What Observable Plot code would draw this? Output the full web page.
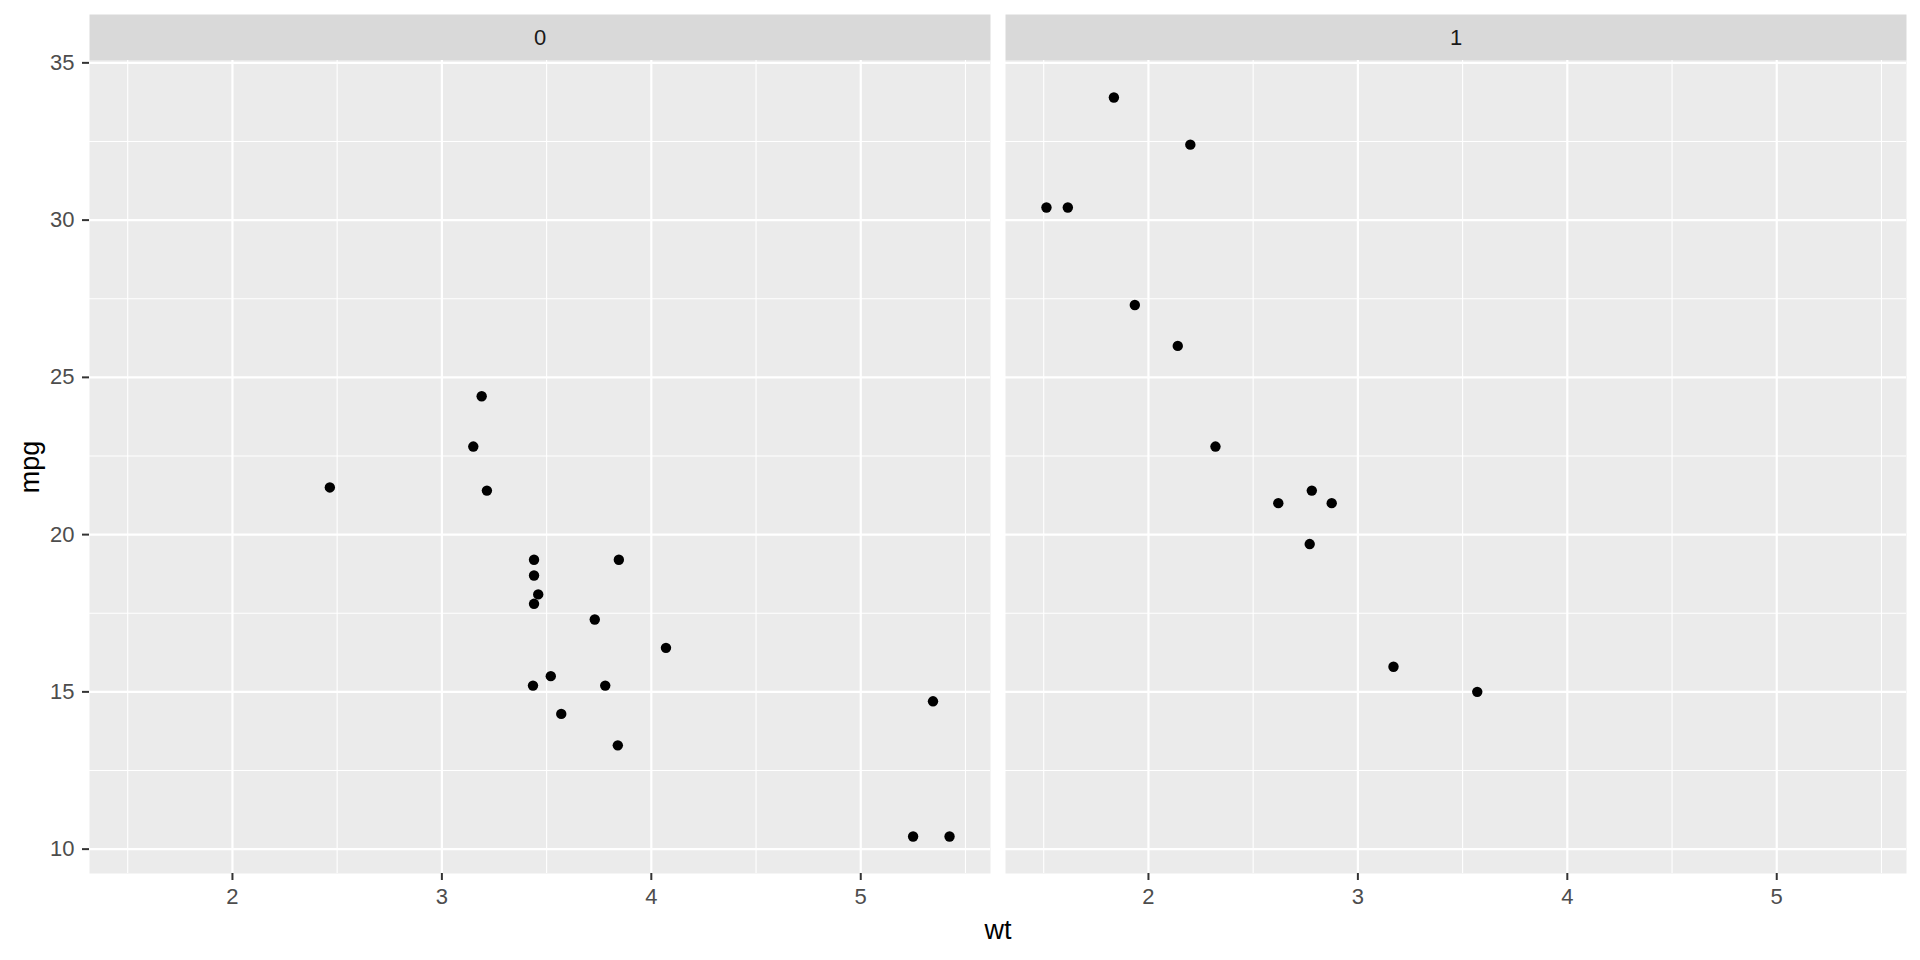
<!DOCTYPE html>
<html>
<head>
<meta charset="utf-8">
<script src="https://cdn.jsdelivr.net/npm/d3@7"></script>
<script src="https://cdn.jsdelivr.net/npm/@observablehq/plot@0.6"></script>
<style>
  html, body { margin: 0; padding: 0; background: #fff; }
  #chart { width: 1920px; height: 960px; }
</style>
</head>
<body>
<div id="chart"></div>
<script>
// am = 0 (automatic)
const wt0  = [3.215, 3.440, 3.460, 3.570, 3.190, 3.150, 3.440, 3.440, 4.070, 3.730, 3.780, 5.250, 5.424, 5.345, 2.465, 3.520, 3.435, 3.840, 3.845];
const mpg0 = [21.4, 18.7, 18.1, 14.3, 24.4, 22.8, 19.2, 17.8, 16.4, 17.3, 15.2, 10.4, 10.4, 14.7, 21.5, 15.5, 15.2, 13.3, 19.2];
// am = 1 (manual)
const wt1  = [2.620, 2.875, 2.320, 2.200, 1.615, 1.835, 1.935, 2.140, 1.513, 3.170, 2.770, 3.570, 2.780];
const mpg1 = [21.0, 21.0, 22.8, 32.4, 30.4, 33.9, 27.3, 26.0, 30.4, 15.8, 19.7, 15.0, 21.4];

const facets = [0, 1];
const xTicks = [2, 3, 4, 5];
const xMinor = [1.5, 2.5, 3.5, 4.5, 5.5];
const yTicks = [10, 15, 20, 25, 30, 35];
const yMinor = [12.5, 17.5, 22.5, 27.5, 32.5];
const xTitle = "wt";
const yTitle = "mpg";

const data = [
  ...wt0.map((w, i) => ({am: 0, wt: w, mpg: mpg0[i]})),
  ...wt1.map((w, i) => ({am: 1, wt: w, mpg: mpg1[i]}))
];

// ggplot-style 5% expansion of the data range
const allWt = data.map(d => d.wt), allMpg = data.map(d => d.mpg);
const [wMin, wMax] = d3.extent(allWt), [mMin, mMax] = d3.extent(allMpg);
const wPad = (wMax - wMin) * 0.05, mPad = (mMax - mMin) * 0.05;

const W = 1920, H = 960;
const mTop = 60, mBottom = 87, mLeft = 89, mRight = 14;
const panelH = H - mTop - mBottom;
const gap = 15;
const bandW = (W - mLeft - mRight - gap) / 2;

const chart = Plot.plot({
  width: W,
  height: H,
  marginTop: mTop,
  marginBottom: mBottom,
  marginLeft: mLeft,
  marginRight: mRight,
  style: {fontFamily: "'Liberation Sans', Arial, sans-serif", fontSize: "22px", background: "#fff", overflow: "visible"},
  fx: {domain: facets, paddingInner: gap / (bandW + gap), paddingOuter: 0, axis: null},
  x: {domain: [wMin - wPad, wMax + wPad], label: null},
  y: {domain: [mMin - mPad, mMax + mPad], label: null},
  marks: [
    Plot.frame({fill: "#EBEBEB", stroke: null}),
    Plot.frame({fill: "#D9D9D9", stroke: null, insetTop: -46, insetBottom: panelH}),
    Plot.gridX(xMinor, {stroke: "#fff", strokeOpacity: 1, strokeWidth: 1.1}),
    Plot.gridY(yMinor, {stroke: "#fff", strokeOpacity: 1, strokeWidth: 1.1}),
    Plot.gridX(xTicks, {stroke: "#fff", strokeOpacity: 1, strokeWidth: 2.2}),
    Plot.gridY(yTicks, {stroke: "#fff", strokeOpacity: 1, strokeWidth: 2.2}),
    Plot.axisX(xTicks, {tickSize: 7, tickPadding: 8, stroke: "#333333", strokeWidth: 2, fill: "#4D4D4D", fontSize: 22, label: null, tickFormat: d => String(d)}),
    Plot.axisY(yTicks, {tickSize: 7, tickPadding: 8, stroke: "#333333", strokeWidth: 2, fill: "#4D4D4D", fontSize: 22, label: null, tickFormat: d => String(d)}),
    Plot.text(facets, {fx: d => d, text: d => String(d), frameAnchor: "top", lineAnchor: "middle", dy: -23, fill: "#1A1A1A", fontSize: 22}),
    Plot.dot(data, {fx: "am", x: "wt", y: "mpg", r: 5.2, fill: "#000", stroke: null}),
    Plot.text([xTitle], {facet: "super", frameAnchor: "bottom", lineAnchor: "middle", dy: 57, fill: "#000", fontSize: 27}),
    Plot.text([yTitle], {facet: "super", frameAnchor: "left", lineAnchor: "middle", textAnchor: "middle", dx: -59, rotate: -90, fill: "#000", fontSize: 27})
  ]
});
document.getElementById("chart").appendChild(chart);
</script>
</body>
</html>
